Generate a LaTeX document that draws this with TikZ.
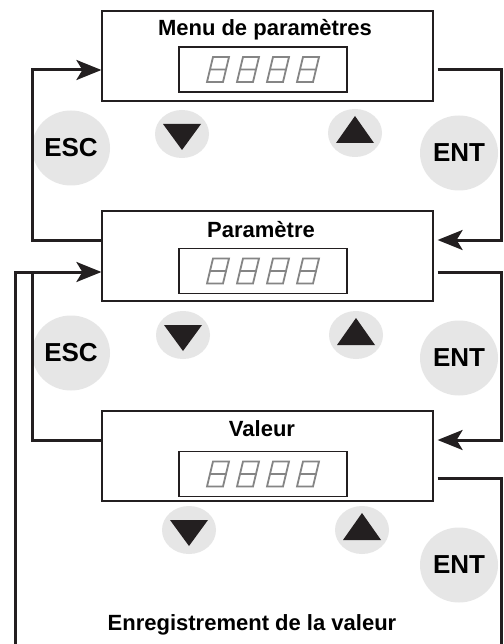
\documentclass[tikz,border=0pt]{standalone}
\usepackage{fontspec}
\setmainfont{Liberation Sans}
\usetikzlibrary{shapes.geometric,arrows.meta}
\definecolor{ink}{HTML}{231F20}
\definecolor{btn}{HTML}{E6E6E6}
\definecolor{segc}{HTML}{858585}
\begin{document}
\begin{tikzpicture}[x=1pt,y=-1pt,
 panel/.style={draw=ink,line width=1.2pt,minimum width=331pt,minimum height=90pt,inner sep=0pt},
 display/.style={draw=ink,line width=1.2pt,minimum width=168pt,minimum height=45pt,inner sep=0pt},
 title/.style={font=\bfseries\fontsize{22}{22}\selectfont,anchor=base,inner sep=0pt},
 bigkey/.style={ellipse,fill=btn,minimum width=78pt,minimum height=75pt,inner sep=0pt,font=\bfseries\fontsize{26}{26}\selectfont},
 smallkey/.style={ellipse,fill=btn,minimum width=54pt,minimum height=48pt,inner sep=0pt},
 tri/.style={fill=ink},
 conn/.style={draw=ink,line width=3pt},
 arr/.style={-{Stealth[length=25pt,width=20pt,inset=6pt]}},
 digit/.pic={\draw[segc,line width=1.8pt,line join=miter] (-5,-12.5) -- (11,-12.5) -- (5,12.5) -- (-11,12.5) -- cycle (-8,0) -- (8,0);}
]
\fill[white] (0,0) rectangle (503,644);
\useasboundingbox (0,0) rectangle (503,644);

% panels
\node[panel] (b1) at (267.5,56) {};
\node[panel] (b2) at (267.5,256) {};
\node[panel] (b3) at (267.5,456) {};
\node[display] (d1) at (263,69.5) {};
\node[display] (d2) at (263,271) {};
\node[display] (d3) at (263,474) {};
\foreach \d in {d1,d2,d3}
  \foreach \dx in {-45,-15,15,45}
    \pic at ([xshift=\dx pt]\d.center) {digit};

% titles
\node[title] (t1) at (265,36) {Menu de paramètres};
\node[title] (t2) at (261,237) {Paramètre};
\node[title] (t3) at (262,436) {Valeur};
\node[title] (t4) at (252,630) {Enregistrement de la valeur};

% keys
\node[bigkey] (esc1) at (71,148) {ESC};
\node[bigkey] (ent1) at (459,153) {ENT};
\node[smallkey] (dn1) at (182,134) {};
\node[smallkey] (up1) at (355,133) {};
\node[bigkey] (esc2) at (71,353) {ESC};
\node[bigkey] (ent2) at (459,358) {ENT};
\node[smallkey] (dn2) at (183,335) {};
\node[smallkey] (up2) at (356,335) {};
\node[bigkey] (ent3) at (459,565) {ENT};
\node[smallkey] (dn3) at (189,530) {};
\node[smallkey] (up3) at (362,530) {};

\foreach \k in {dn1,dn2,dn3}
  \fill[tri] ([shift={(-19,-10)}]\k.center) -- ++(38,0) -- ++(-19,26) -- cycle;
\foreach \k in {up1,up2,up3}
  \fill[tri] ([shift={(-19,10)}]\k.center) -- ++(38,0) -- ++(-19,-27) -- cycle;

% connector corners
\coordinate (la) at (32,240);
\coordinate (lb) at (32,70);
\coordinate (ra) at (501,70);
\coordinate (rb) at (501,240);
\coordinate (rc) at (501,272);
\coordinate (rd) at (501,440);
\coordinate (lc) at (32,440);
\coordinate (j) at (32,272);
\coordinate (re) at (501,478);
\coordinate (rf) at (501,647);
\coordinate (lf) at (15,647);
\coordinate (lg) at (15,272);

\draw[conn,arr] ([yshift=16pt]b2.west) -- (la) -- (lb) -- ([yshift=-14pt]b1.west);
\draw[conn,arr] ([xshift=4pt,yshift=-14pt]b1.east) -- (ra) -- (rb) -- ([xshift=4pt,yshift=16pt]b2.east);
\draw[conn,arr] ([xshift=4pt,yshift=-16pt]b2.east) -- (rc) -- (rd) -- ([xshift=4pt,yshift=16pt]b3.east);
\draw[conn] ([yshift=16pt]b3.west) -- (lc) -- (j);
\draw[conn,arr] ([xshift=4pt,yshift=-22pt]b3.east) -- (re) -- (rf) -- (lf) -- (lg) -- ([yshift=-16pt]b2.west);
\end{tikzpicture}
\end{document}
